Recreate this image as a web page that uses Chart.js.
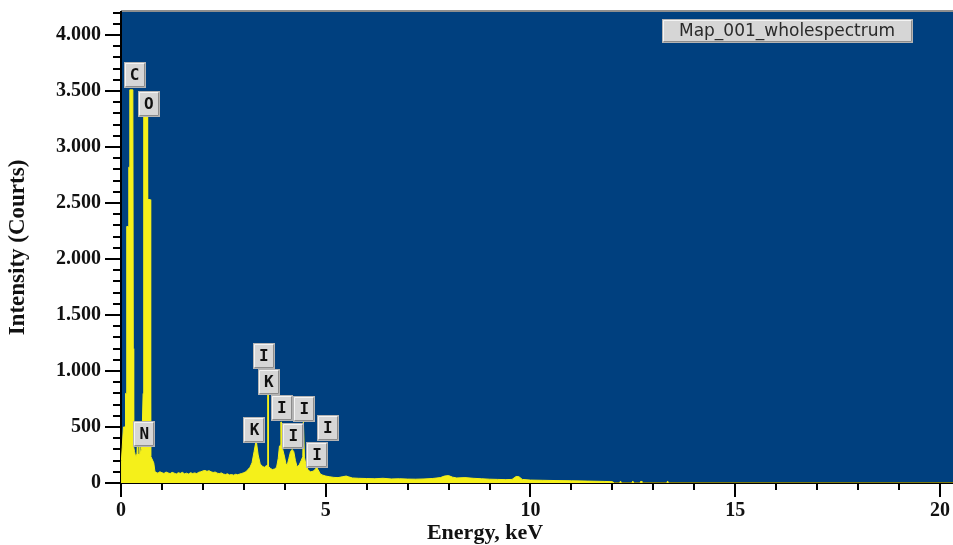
<!DOCTYPE html>
<html>
<head>
<meta charset="utf-8">
<script src="https://cdn.jsdelivr.net/npm/chart.js"></script>
<style>
  html, body { margin: 0; padding: 0; background: #fff; }
  #wrap { width: 953px; height: 545px; }
</style>
</head>
<body>
<div id="wrap"><canvas id="spectrum" width="953" height="545"></canvas></div>
<script>
// EDS spectrum, values (keV / counts)
const energies = [
  0.00, 0.01, 0.03, 0.06, 0.10, 0.11, 0.13, 0.14, 0.18, 0.19, 0.21, 0.215, 0.29, 0.30, 0.31,
  0.33, 0.36, 0.39, 0.40, 0.41, 0.45, 0.46, 0.47, 0.50, 0.52, 0.54, 0.555, 0.64, 0.65, 0.71,
  0.72, 0.73, 0.80, 0.83,
  0.86, 0.90, 0.95, 1.00, 1.05, 1.10, 1.15, 1.20, 1.25, 1.30, 1.35, 1.40, 1.45, 1.50, 1.55,
  1.60, 1.65, 1.70, 1.75, 1.80, 1.85, 1.90, 1.95, 2.00, 2.05, 2.10, 2.15, 2.20, 2.25, 2.30,
  2.35, 2.40, 2.45, 2.50, 2.55, 2.60, 2.65, 2.70, 2.75, 2.80, 2.85, 2.90, 2.95, 3.00, 3.05,
  3.10, 3.15,
  3.20, 3.25, 3.29, 3.31, 3.35, 3.40, 3.45, 3.50, 3.55, 3.58, 3.585, 3.595, 3.60, 3.65, 3.70,
  3.75, 3.80, 3.84, 3.87, 3.90, 3.905, 3.915, 3.92, 3.95, 3.99, 4.03, 4.06, 4.10, 4.14, 4.18,
  4.22, 4.26, 4.30, 4.35, 4.40, 4.44, 4.455, 4.465, 4.48, 4.52, 4.57, 4.63, 4.69, 4.74, 4.78,
  4.81, 4.87, 4.93, 5.00,
  5.10, 5.20, 5.30, 5.40, 5.50, 5.56, 5.65, 5.80, 6.00, 6.20, 6.40, 6.60, 6.80, 7.00, 7.20,
  7.40, 7.60, 7.80, 7.90, 8.00, 8.10, 8.20, 8.40, 8.60, 8.80, 9.00, 9.20, 9.40, 9.55, 9.65,
  9.72, 9.80, 10.00, 10.30, 10.60, 11.00, 11.40, 11.80, 12.00, 12.05,
  12.18, 12.20, 12.22, 12.48, 12.50, 12.52, 12.68, 12.70, 12.72, 13.33, 13.35, 13.37, 20.32
];
const counts = [
  0, 200, 320, 500, 500, 800, 800, 2290, 2290, 2820, 2820, 3510, 3510, 1200, 320,
  280, 230, 260, 350, 250, 260, 340, 260, 300, 500, 800, 3390, 3390, 2530, 2530,
  1000, 240, 180, 100,
  95, 88, 100, 92, 85, 98, 90, 84, 95, 88, 80, 92, 86, 95, 82,
  88, 80, 92, 85, 90, 84, 96, 100, 108, 112, 104, 110, 100, 94, 98,
  88, 84, 90, 80, 76, 82, 72, 76, 70, 78, 74, 80, 85, 92, 100,
  120, 140,
  180, 280, 360, 360, 250, 170, 150, 140, 155, 160, 790, 790, 150, 130, 120,
  125, 140, 220, 330, 340, 545, 545, 340, 300, 240, 170, 160, 220, 280, 300,
  280, 200, 145, 160, 200, 235, 545, 545, 230, 160, 115, 100, 105, 120, 140,
  120, 80, 70, 62,
  55, 50, 48, 55, 62, 55, 45, 42, 40, 38, 42, 36, 38, 35, 34,
  36, 40, 48, 62, 66, 52, 45, 48, 42, 38, 34, 32, 30, 32, 58,
  56, 32, 26, 24, 22, 20, 17, 14, 12, 0,
  0, 18, 0, 0, 18, 0, 0, 18, 0, 0, 18, 0, 0
];

const xTicks = [0, 5, 10, 15, 20];
const yTicks = [0, 500, 1000, 1500, 2000, 2500, 3000, 3500, 4000];
const seriesName = 'Map_001_wholespectrum';

// element markers: symbol and where its box sits (keV, counts)
const peakLabels = ['C', 'O', 'N', 'I', 'K', 'K', 'I', 'I', 'I', 'I', 'I'];
const peakEnergy = [0.33, 0.68, 0.57, 3.49, 3.61, 3.26, 3.93, 4.48, 4.21, 5.05, 4.79];
const peakCounts = [3643, 3388, 437, 1134, 902, 473, 670, 661, 420, 491, 250];

const xMax = 20.32;
const yMax = 4205;
const serif = 'Liberation Serif, Times New Roman, serif';

function fmtCount(v) {
  if (v < 1000) return String(v);
  return Math.floor(v / 1000) + '.' + String(v % 1000).padStart(3, '0');
}

function drawBox(ctx, x, y, w, h) {
  ctx.fillStyle = '#d6d6d6';
  ctx.fillRect(x, y, w, h);
  ctx.lineWidth = 1;
  ctx.strokeStyle = '#f4f4f4';
  ctx.beginPath();
  ctx.moveTo(x + 1.5, y + h - 1.5); ctx.lineTo(x + 1.5, y + 1.5); ctx.lineTo(x + w - 1.5, y + 1.5);
  ctx.stroke();
  ctx.strokeStyle = '#8c8c8c';
  ctx.beginPath();
  ctx.moveTo(x + 1.5, y + h - 1.5); ctx.lineTo(x + w - 1.5, y + h - 1.5); ctx.lineTo(x + w - 1.5, y + 1.5);
  ctx.stroke();
  ctx.strokeStyle = '#b4b4b4';
  ctx.strokeRect(x + 0.5, y + 0.5, w - 1, h - 1);
}

const decor = {
  id: 'decor',
  beforeDraw(chart) {
    const { ctx, chartArea: a } = chart;
    ctx.save();
    ctx.fillStyle = '#00407f';
    ctx.fillRect(a.left, a.top, a.right - a.left, a.bottom - a.top);
    ctx.fillStyle = '#8e8e8e';
    ctx.fillRect(a.left, a.top - 2, a.right - a.left, 2);
    ctx.restore();
  },
  afterDatasetsDraw(chart) {
    const { ctx, scales } = chart;
    ctx.save();
    ctx.font = 'bold 16px "DejaVu Sans Mono"';
    ctx.textAlign = 'center';
    ctx.textBaseline = 'middle';
    peakLabels.forEach((el, i) => {
      const cx = scales.x.getPixelForValue(peakEnergy[i]);
      const cy = scales.y.getPixelForValue(peakCounts[i]);
      drawBox(ctx, Math.round(cx - 11), Math.round(cy - 13), 22, 26);
      ctx.fillStyle = '#111';
      ctx.fillText(el, cx, cy + 1);
    });
    ctx.restore();
  },
  afterDraw(chart) {
    const { ctx, chartArea: a, scales } = chart;
    ctx.save();
    // minor tick marks
    ctx.strokeStyle = '#000';
    ctx.lineWidth = 2;
    ctx.beginPath();
    for (let k = 1; k <= 20; k++) {
      if (k % 5 === 0) continue;
      const px = Math.round(scales.x.getPixelForValue(k));
      ctx.moveTo(px, a.bottom);
      ctx.lineTo(px, a.bottom + 7);
    }
    for (let v = 100; v <= 4200; v += 100) {
      if (v % 500 === 0) continue;
      const py = Math.round(scales.y.getPixelForValue(v));
      ctx.moveTo(a.left - 8, py);
      ctx.lineTo(a.left, py);
    }
    ctx.stroke();

    // series box top right
    drawBox(ctx, 662, 19, 251, 24);
    ctx.font = '17px "DejaVu Sans"';
    ctx.fillStyle = '#2a2a2a';
    ctx.textAlign = 'center';
    ctx.textBaseline = 'middle';
    ctx.fillText(seriesName, 662 + 125, 32);

    // x axis title
    ctx.font = 'bold 22px ' + serif;
    ctx.fillStyle = '#111';
    ctx.textBaseline = 'alphabetic';
    ctx.fillText('Energy, keV', 485, 539);
    ctx.restore();
  }
};

new Chart(document.getElementById('spectrum'), {
  type: 'line',
  data: {
    datasets: [{
      label: seriesName,
      data: energies.map((e, i) => ({ x: e, y: counts[i] })),
      borderColor: '#f5f01a',
      backgroundColor: '#f5f01a',
      borderWidth: 1,
      pointRadius: 0,
      tension: 0,
      fill: 'origin'
    }]
  },
  options: {
    responsive: false,
    animation: false,
    layout: { padding: { top: 12, right: 0, bottom: 0, left: 0 } },
    plugins: { legend: { display: false }, tooltip: { enabled: false } },
    scales: {
      x: {
        type: 'linear',
        min: 0,
        max: xMax,
        afterBuildTicks: s => { s.ticks = xTicks.map(v => ({ value: v })); },
        afterFit: s => { s.height = 62; s.paddingLeft = 0; s.paddingRight = 0; },
        ticks: {
          autoSkip: false,
          maxRotation: 0,
          padding: 2,
          color: '#111',
          font: { family: serif, size: 20, weight: 'bold' }
        },
        grid: { drawOnChartArea: false, color: '#000', lineWidth: 2, tickLength: 14 },
        border: { color: '#000', width: 2 }
      },
      y: {
        type: 'linear',
        min: 0,
        max: yMax,
        afterBuildTicks: s => { s.ticks = yTicks.map(v => ({ value: v })); },
        afterFit: s => { s.width = 121; s.paddingTop = 0; s.paddingBottom = 0; },
        ticks: {
          padding: 4,
          color: '#111',
          font: { family: serif, size: 20, weight: 'bold' },
          callback: v => fmtCount(v)
        },
        grid: { drawOnChartArea: false, color: '#000', lineWidth: 2, tickLength: 16 },
        border: { color: '#000', width: 2 },
        title: {
          display: true,
          text: 'Intensity (Courts)',
          color: '#111',
          font: { family: serif, size: 23, weight: 'bold' },
          padding: { top: 4, bottom: 0 }
        }
      }
    }
  },
  plugins: [decor]
});
</script>
</body>
</html>
